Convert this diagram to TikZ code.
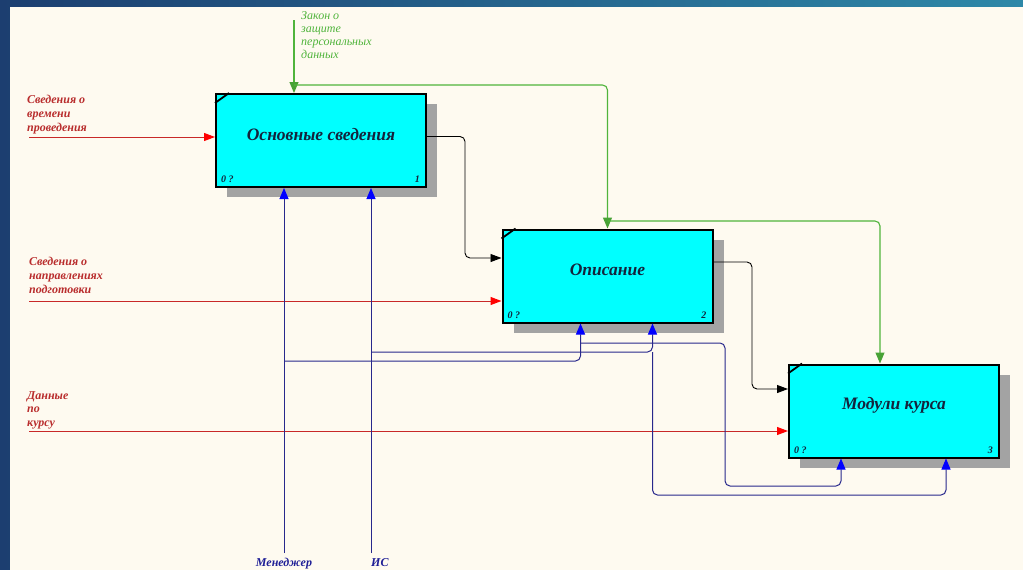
\documentclass[tikz,border=0pt]{standalone}
\usepackage{fontspec}
\setmainfont{Liberation Serif}
\usetikzlibrary{arrows.meta,shadows}

\definecolor{frameleft}{RGB}{28,62,112}
\definecolor{frameright}{RGB}{46,136,168}
\definecolor{paper}{RGB}{254,250,240}
\definecolor{boxcyan}{RGB}{0,255,255}
\definecolor{titleink}{RGB}{20,35,60}
\definecolor{inred}{RGB}{200,40,40}
\definecolor{inlabel}{RGB}{185,45,45}
\definecolor{ctlgreen}{RGB}{80,180,60}
\definecolor{mechblue}{RGB}{40,40,140}
\definecolor{mechlabel}{RGB}{30,30,150}

\begin{document}
\begin{tikzpicture}[x=1pt, y=-1pt,
    func/.style={draw, line width=2pt, fill=boxcyan, minimum width=210pt, minimum height=93pt, inner sep=0pt,
        drop shadow={shadow xshift=11pt, shadow yshift=-10pt, fill=black!36, opacity=1}},
    title/.style={font=\fontsize{17.5}{20}\selectfont\bfseries\itshape, text=titleink},
    num/.style={font=\fontsize{10}{12}\selectfont\bfseries\itshape, text=titleink, inner sep=0pt},
    lbl/.style={font=\fontsize{12}{13.8}\selectfont\bfseries\itshape, align=left, inner sep=0pt},
    inarr/.style={draw=inred, line width=1pt, -{Triangle[length=11pt, width=8pt, color=red]}},
    ctlarr/.style={draw=ctlgreen, line width=1.1pt, rounded corners=5pt, -{Triangle[length=11pt, width=9pt, color=ctlgreen!90!black]}},
    outarr/.style={draw=black, line width=0.9pt, rounded corners=5pt, -{Triangle[length=11pt, width=8pt]}},
    mecharr/.style={draw=mechblue, line width=1pt, rounded corners=5pt, -{Triangle[length=11pt, width=9pt, color=blue]}}]

    % frame and page
    \useasboundingbox (0,0) rectangle (1023,570);
    \shade[left color=frameleft, right color=frameright] (0,0) rectangle (1023,570);
    \fill[paper] (10,7) rectangle (1023,570);

    % blocks
    \node[func] (a1) at (321,140.5) {};
    \node[func] (a2) at (607.5,276) {};
    \node[func] (a3) at (894,411) {};

    \draw[line width=1.8pt] ([yshift=-10pt]a1.north west) -- ([xshift=14pt]a1.north west);
    \draw[line width=1.8pt] ([yshift=-10pt]a2.north west) -- ([xshift=14pt]a2.north west);
    \draw[line width=1.8pt] ([yshift=-10pt]a3.north west) -- ([xshift=14pt]a3.north west);

    \node[title] at ([yshift=6pt]a1.center) {Основные сведения};
    \node[title] at ([yshift=6pt]a2.center) {Описание};
    \node[title] at ([yshift=6pt]a3.center) {Модули курса};

    \node[num, anchor=south west] at ([shift={(6pt,5pt)}]a1.south west) {0 ?};
    \node[num, anchor=south east] at ([shift={(-7pt,5pt)}]a1.south east) {1};
    \node[num, anchor=south west] at ([shift={(6pt,5pt)}]a2.south west) {0 ?};
    \node[num, anchor=south east] at ([shift={(-7pt,5pt)}]a2.south east) {2};
    \node[num, anchor=south west] at ([shift={(6pt,5pt)}]a3.south west) {0 ?};
    \node[num, anchor=south east] at ([shift={(-7pt,5pt)}]a3.south east) {3};

    % free ends
    \coordinate (in1) at (29,137);
    \coordinate (in2) at (29,301);
    \coordinate (in3) at (29,431);
    \coordinate (law) at (294,20);
    \coordinate (mgr) at (284,553);
    \coordinate (sys) at (371,553);
    \coordinate (m2) at ([xshift=-27pt]a2.south);
    \coordinate (s2) at ([xshift=45pt]a2.south);
    \coordinate (m3) at ([xshift=-53pt]a3.south);
    \coordinate (s3) at ([xshift=52pt]a3.south);
    \coordinate (c3) at ([xshift=-14pt]a3.north);

    % inputs
    \draw[inarr] (in1) -- (in1 -| a1.west);
    \draw[inarr] (in2) -- (in2 -| a2.west);
    \draw[inarr] (in3) -- (in3 -| a3.west);

    % controls
    \draw[ctlarr] (law) -- (law |- a1.north);
    \draw[ctlarr] (law |- 0,85) -| (a2.north);
    \draw[ctlarr] (a2.north |- 0,221) -| (c3);

    % outputs
    \draw[outarr] ([yshift=4pt]a1.east) -| (465,258) -- (a2.west |- 0,258);
    \draw[outarr] ([yshift=14pt]a2.east) -| (752,389) -- (a3.west |- 0,389);

    % mechanisms
    \draw[mecharr] (mgr) -- (mgr |- a1.south);
    \draw[mecharr] (sys) -- (sys |- a1.south);
    \draw[mecharr] (mgr |- 0,361) -| (m2);
    \draw[mecharr] (sys |- 0,352) -| (s2);
    \draw[mecharr] (m2 |- 0,343) -| (725,486) -| (m3);
    \draw[mecharr] (s2 |- 0,352) -- (s2 |- 0,495) -| (s3);

    % arrow labels
    \node[lbl, text=inlabel, anchor=north west] at (27,95) {Сведения о\\времени\\проведения};
    \node[lbl, text=inlabel, anchor=north west] at (29,257) {Сведения о\\направлениях\\подготовки};
    \node[lbl, text=inlabel, anchor=north west] at (27,391) {Данные\\по\\курсу};
    \node[lbl, font=\fontsize{12}{13}\selectfont\itshape, text=ctlgreen, anchor=north west] at (301,11) {Закон о\\защите\\персональных\\данных};
    \node[lbl, text=mechlabel, anchor=base] at (284,566) {Менеджер};
    \node[lbl, text=mechlabel, anchor=base west] at (371,566) {ИС};
\end{tikzpicture}
\end{document}
